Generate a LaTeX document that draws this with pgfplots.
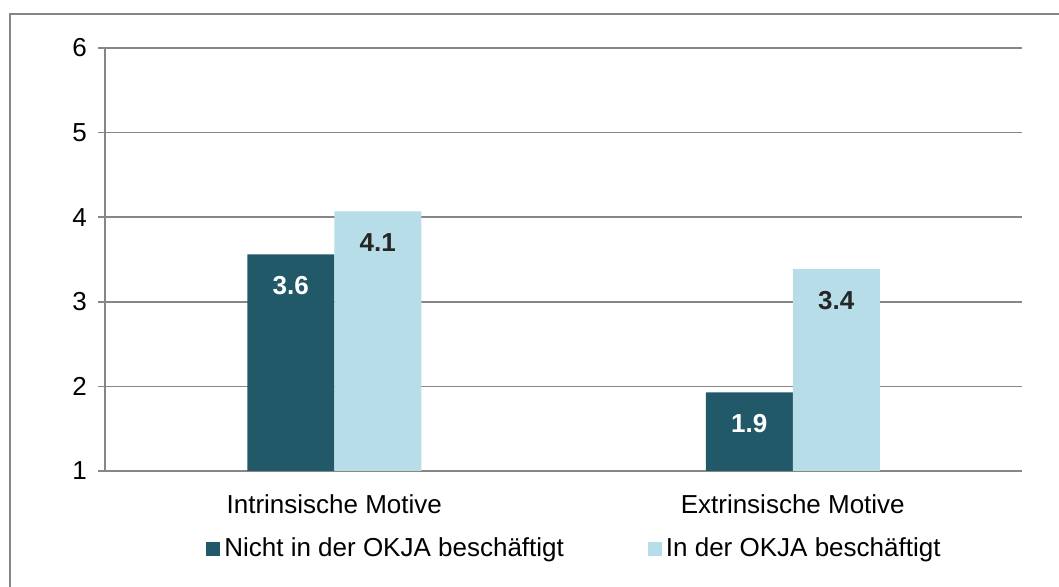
\documentclass[border=0pt]{standalone}
\usepackage{pgfplots}
\pgfplotsset{compat=1.18}
\usepackage{fontspec}
\setmainfont{Liberation Sans}
\definecolor{darkteal}{HTML}{215968}
\definecolor{lightblue}{HTML}{B7DEE8}
\definecolor{axisgray}{HTML}{868686}
\definecolor{labeldark}{HTML}{262626}

\begin{document}
\fontsize{13pt}{15pt}\selectfont
\begin{tikzpicture}
\useasboundingbox (-52.5pt,-58pt) rectangle (477pt,235.5pt);
% outer chart frame (only top and left visible)
\draw[axisgray, line width=0.75pt] (-47.5pt,-58pt) -- (-47.5pt,228.5pt) -- (477pt,228.5pt);
\begin{axis}[
  at={(0pt,0pt)}, anchor=south west,
  scale only axis,
  width=458.5pt, height=211.5pt,
  ybar=0pt, bar width=43.5pt,
  xmin=-0.5, xmax=1.5,
  ymin=1, ymax=6,
  ytick={1,2,3,4,5,6},
  xtick={0,1},
  xticklabels={Intrinsische Motive, Extrinsische Motive},
  extra x ticks={-0.5,0.5,1.5},
  extra x tick labels={},
  extra x tick style={major tick length=4pt, tick align=outside, grid=none},
  x tick style={draw=none},
  y tick style={axisgray, line width=0.75pt},
  major tick length=3.5pt,
  tick align=outside,
  axis x line*=bottom, axis y line*=left,
  axis line style={axisgray, line width=0.75pt, -},
  ymajorgrids,
  major grid style={axisgray, line width=0.75pt},
  tick label style={font=\fontsize{13pt}{15pt}\selectfont, text=black},
  /pgf/number format/assume math mode=true,
  xticklabel style={yshift=-4pt},
  yticklabel style={xshift=-1pt},
  legend style={at={(0.513,-0.184)}, anchor=center, draw=none,
    legend columns=2, font=\fontsize{13pt}{15pt}\selectfont,
    /tikz/every even column/.append style={column sep=40pt}},
  legend image code/.code={\fill[#1] (-1pt,-3.5pt) rectangle (6pt,3.5pt);},
  nodes near coords,
  nodes near coords style={anchor=north, yshift=-11pt, inner sep=0pt,
    font=\fontsize{13pt}{15pt}\selectfont\bfseries,
    /pgf/number format/fixed, /pgf/number format/fixed zerofill,
    /pgf/number format/precision=1},
]
\addplot[fill=darkteal, draw=none, every node near coord/.append style={text=white}]
  coordinates {(0,3.56) (1,1.93)};
\addlegendentry{Nicht in der OKJA beschäftigt}
\addplot[fill=lightblue, draw=none, every node near coord/.append style={text=labeldark}]
  coordinates {(0,4.07) (1,3.39)};
\addlegendentry{In der OKJA beschäftigt}
\end{axis}
\end{tikzpicture}
\end{document}
